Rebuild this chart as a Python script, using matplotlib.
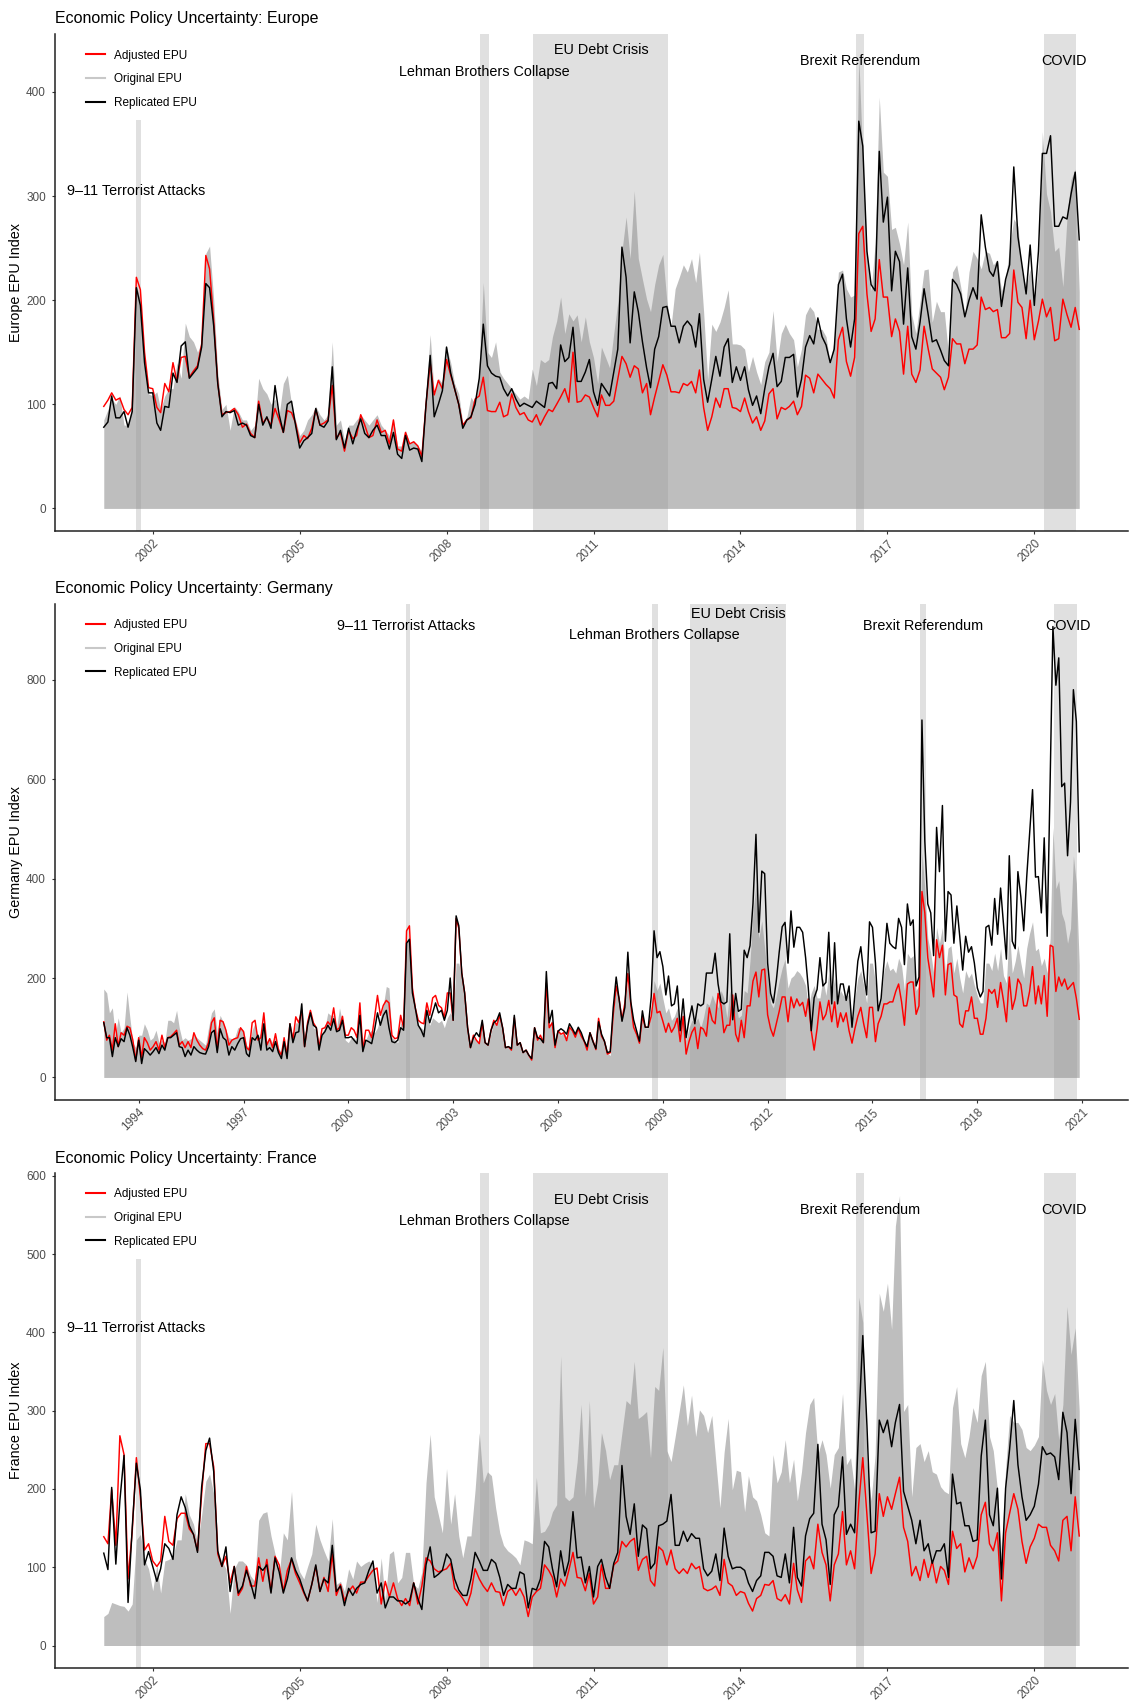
import pandas as pd
import numpy as np
import matplotlib
matplotlib.use('Agg')
import matplotlib.pyplot as plt
import matplotlib.dates as mdates
from matplotlib.lines import Line2D

plt.rcParams['font.family'] = ['Liberation Sans', 'DejaVu Sans']

# ---------------- Europe, monthly 2001-01 .. 2020-12 ----------------
eu_adjusted = [
    98, 104, 111, 104, 106, 95, 90, 97, 222, 210, 150, 116,
    115, 97, 92, 120, 112, 140, 122, 145, 146, 126, 132, 137,
    158, 243, 230, 180, 120, 90, 92, 93, 96, 90, 78, 81,
    72, 68, 103, 82, 87, 80, 96, 85, 73, 94, 92, 82,
    63, 70, 67, 77, 95, 80, 82, 85, 118, 67, 73, 55,
    75, 67, 70, 90, 80, 68, 70, 85, 73, 75, 62, 85,
    57, 55, 73, 62, 64, 60, 50, 100, 140, 109, 123, 115,
    143, 128, 115, 100, 80, 85, 87, 105, 108, 126, 94, 93,
    93, 102, 88, 90, 110, 97, 90, 92, 85, 83, 90, 80,
    88, 95, 93, 100, 107, 115, 102, 150, 102, 103, 109, 107,
    97, 88, 109, 99, 99, 103, 124, 146, 139, 126, 137, 134,
    111, 120, 90, 107, 122, 138, 128, 112, 112, 111, 120, 118,
    122, 111, 133, 97, 75, 88, 106, 97, 115, 115, 97, 96,
    93, 106, 93, 82, 88, 75, 84, 110, 115, 86, 97, 95,
    98, 103, 90, 98, 128, 125, 111, 129, 124, 119, 115, 106,
    162, 174, 141, 127, 145, 264, 271, 206, 170, 182, 239, 203,
    203, 165, 182, 170, 129, 175, 129, 121, 133, 175, 153, 134,
    130, 126, 114, 126, 163, 158, 158, 139, 153, 153, 157, 203,
    191, 193, 189, 191, 164, 164, 168, 229, 198, 193, 163, 200,
    162, 180, 201, 184, 193, 161, 163, 201, 186, 174, 193, 172,
]
eu_original = [
    85, 95, 105, 100, 108, 80, 80, 100, 215, 200, 140, 110,
    108, 112, 95, 108, 115, 115, 140, 125, 178, 165, 160, 150,
    160, 245, 252, 200, 130, 95, 100, 75, 98, 93, 85, 85,
    75, 80, 125, 115, 110, 100, 105, 90, 120, 128, 100, 85,
    70, 75, 85, 90, 98, 90, 85, 90, 160, 80, 85, 65,
    80, 80, 85, 90, 85, 80, 85, 90, 80, 75, 70, 85,
    60, 60, 75, 62, 65, 60, 55, 110, 167, 110, 125, 120,
    155, 140, 120, 110, 82, 88, 107, 100, 130, 217, 150, 145,
    160, 131, 125, 120, 115, 110, 105, 108, 105, 134, 118, 143,
    140, 143, 165, 180, 203, 168, 187, 180, 186, 160, 184, 160,
    145, 120, 155, 145, 135, 168, 198, 247, 280, 240, 305, 240,
    220, 201, 189, 215, 234, 244, 199, 175, 211, 222, 234, 227,
    240, 217, 246, 189, 124, 177, 170, 179, 193, 210, 158, 158,
    157, 153, 131, 146, 131, 119, 141, 150, 190, 141, 168, 177,
    168, 162, 136, 153, 186, 194, 189, 172, 172, 165, 139, 162,
    227, 229, 211, 203, 205, 434, 336, 247, 209, 254, 395, 323,
    319, 268, 270, 254, 234, 275, 186, 168, 199, 229, 230, 179,
    199, 189, 189, 148, 227, 234, 213, 186, 227, 247, 240, 230,
    247, 245, 234, 239, 209, 220, 251, 278, 271, 227, 213, 230,
    196, 234, 362, 302, 285, 247, 251, 213, 280, 316, 326, 208,
]
eu_replicated = [
    78, 83, 108, 87, 87, 93, 78, 93, 212, 195, 140, 111,
    111, 82, 75, 98, 97, 130, 121, 156, 160, 125, 130, 135,
    155, 216, 212, 175, 120, 88, 93, 92, 94, 80, 82, 80,
    70, 68, 100, 80, 88, 77, 118, 90, 73, 100, 103, 80,
    58, 65, 68, 72, 96, 80, 78, 84, 136, 66, 75, 58,
    77, 62, 75, 86, 72, 68, 75, 80, 70, 70, 57, 73,
    52, 48, 70, 56, 58, 57, 45, 100, 147, 88, 100, 113,
    155, 130, 115, 100, 77, 85, 88, 100, 125, 177, 137, 130,
    127, 126, 115, 108, 115, 105, 98, 101, 99, 97, 103, 100,
    97, 120, 121, 115, 157, 141, 145, 174, 122, 122, 131, 143,
    112, 99, 120, 114, 108, 131, 153, 251, 222, 159, 208, 189,
    160, 135, 116, 153, 165, 193, 194, 175, 175, 159, 175, 180,
    175, 155, 187, 124, 102, 124, 146, 127, 155, 163, 121, 136,
    123, 136, 114, 99, 108, 91, 115, 136, 149, 117, 122, 145,
    145, 148, 107, 124, 155, 166, 158, 183, 165, 157, 140, 153,
    215, 225, 182, 155, 182, 372, 348, 247, 215, 209, 343, 275,
    299, 209, 247, 237, 177, 231, 165, 153, 179, 211, 186, 160,
    162, 152, 142, 137, 220, 215, 206, 184, 200, 212, 201, 282,
    251, 228, 223, 237, 194, 220, 234, 328, 261, 234, 206, 253,
    195, 247, 341, 341, 358, 271, 271, 280, 278, 302, 323, 258,
]

# ---------------- Germany, monthly 1993-01 .. 2020-12 ----------------
de_adjusted = [
    112, 75, 85, 55, 108, 62, 90, 85, 103, 100, 75, 35,
    80, 40, 80, 70, 55, 62, 72, 55, 85, 60, 80, 82,
    88, 95, 65, 72, 60, 72, 60, 90, 75, 65, 58, 55,
    70, 110, 120, 55, 115, 112, 95, 65, 75, 78, 80, 100,
    92, 60, 55, 110, 115, 75, 80, 130, 65, 78, 60, 88,
    55, 45, 80, 45, 108, 75, 122, 110, 135, 62, 110, 135,
    110, 100, 60, 98, 100, 112, 105, 140, 95, 100, 123, 85,
    85, 100, 95, 80, 150, 55, 95, 95, 80, 120, 165, 125,
    145, 155, 150, 85, 78, 80, 125, 100, 295, 305, 180, 140,
    115, 110, 108, 150, 125, 160, 165, 145, 140, 120, 170, 170,
    115, 320, 300, 210, 170, 100, 60, 85, 75, 68, 110, 70,
    65, 95, 115, 105, 125, 100, 60, 62, 55, 120, 65, 70,
    50, 55, 45, 35, 100, 75, 85, 70, 190, 100, 110, 60,
    94, 87, 90, 74, 101, 94, 81, 98, 83, 73, 55, 90,
    74, 56, 119, 83, 73, 47, 50, 126, 184, 159, 116, 150,
    209, 148, 101, 87, 69, 123, 101, 101, 123, 169, 130, 133,
    113, 91, 109, 91, 101, 119, 72, 123, 47, 72, 91, 101,
    58, 101, 97, 83, 140, 115, 108, 169, 144, 90, 105, 105,
    166, 87, 72, 115, 80, 144, 144, 194, 212, 162, 216, 218,
    126, 98, 83, 108, 133, 162, 162, 112, 162, 140, 158, 144,
    151, 123, 158, 94, 55, 98, 152, 116, 127, 155, 112, 152,
    101, 130, 112, 130, 94, 69, 98, 123, 141, 108, 80, 141,
    141, 72, 108, 123, 148, 148, 152, 152, 173, 188, 152, 105,
    188, 192, 192, 127, 144, 374, 331, 241, 202, 162, 277, 241,
    266, 166, 227, 230, 166, 162, 108, 101, 134, 134, 162, 119,
    119, 87, 87, 119, 177, 169, 177, 141, 191, 155, 112, 202,
    137, 159, 198, 187, 144, 144, 173, 223, 148, 184, 148, 205,
    123, 266, 263, 173, 202, 184, 198, 177, 184, 191, 159, 117,
]
de_original = [
    178, 170, 130, 140, 85, 120, 90, 100, 172, 120, 70, 60,
    85, 85, 108, 95, 75, 80, 95, 70, 75, 70, 115, 115,
    110, 135, 100, 75, 80, 75, 78, 85, 80, 75, 70, 65,
    100, 130, 138, 90, 125, 112, 95, 80, 78, 80, 100, 100,
    95, 65, 60, 95, 110, 80, 90, 115, 70, 80, 70, 80,
    60, 50, 75, 55, 100, 85, 110, 110, 155, 75, 120, 135,
    100, 95, 65, 90, 100, 130, 125, 125, 100, 140, 110, 75,
    70, 80, 80, 70, 110, 60, 75, 90, 95, 90, 100, 120,
    145, 183, 180, 80, 75, 70, 110, 105, 270, 280, 170, 130,
    105, 100, 95, 125, 105, 120, 115, 110, 115, 100, 120, 130,
    120, 230, 230, 200, 160, 100, 60, 80, 75, 70, 110, 70,
    65, 90, 110, 110, 125, 100, 62, 62, 58, 120, 65, 70,
    50, 55, 45, 38, 100, 78, 80, 70, 180, 100, 120, 62,
    95, 85, 92, 80, 100, 95, 85, 100, 85, 75, 60, 92,
    75, 60, 115, 85, 75, 50, 44, 130, 180, 150, 115, 150,
    195, 150, 105, 90, 75, 125, 100, 100, 130, 195, 175, 190,
    159, 130, 140, 115, 123, 140, 110, 125, 75, 100, 115, 110,
    120, 100, 120, 150, 145, 166, 150, 140, 175, 160, 120, 175,
    140, 155, 120, 125, 175, 170, 235, 331, 388, 280, 315, 260,
    200, 150, 140, 165, 195, 220, 238, 180, 200, 205, 215, 210,
    200, 185, 140, 170, 185, 160, 160, 200, 165, 210, 165, 200,
    160, 175, 165, 160, 170, 110, 160, 200, 215, 185, 150, 230,
    230, 190, 140, 160, 215, 235, 215, 220, 210, 240, 225, 175,
    250, 240, 245, 175, 185, 453, 380, 280, 250, 210, 302, 270,
    302, 210, 260, 265, 210, 240, 200, 170, 215, 200, 210, 185,
    165, 150, 150, 230, 230, 215, 250, 215, 260, 205, 190, 300,
    210, 234, 266, 230, 200, 260, 290, 313, 255, 260, 225, 240,
    210, 280, 503, 380, 396, 330, 313, 270, 300, 446, 390, 227,
]
de_replicated = [
    110, 80, 80, 42, 80, 62, 78, 72, 100, 85, 60, 32,
    75, 28, 58, 52, 45, 52, 60, 48, 65, 55, 80, 80,
    85, 90, 62, 60, 42, 55, 45, 62, 55, 50, 48, 47,
    62, 90, 95, 50, 98, 80, 75, 45, 62, 55, 68, 78,
    80, 48, 42, 80, 75, 85, 55, 108, 55, 60, 52, 72,
    50, 38, 72, 38, 108, 70, 90, 92, 148, 62, 105, 130,
    105, 100, 55, 85, 92, 105, 95, 118, 92, 95, 115, 80,
    80, 82, 75, 68, 125, 52, 75, 72, 68, 95, 130, 105,
    125, 135, 100, 72, 70, 75, 100, 95, 270, 278, 170, 140,
    105, 95, 82, 135, 110, 130, 150, 130, 135, 115, 135, 200,
    115, 325, 305, 210, 170, 100, 60, 80, 90, 82, 115, 70,
    65, 95, 110, 115, 130, 100, 60, 62, 58, 125, 65, 70,
    50, 55, 45, 38, 100, 80, 78, 70, 213, 110, 135, 65,
    93, 98, 94, 87, 108, 98, 87, 101, 90, 74, 62, 90,
    72, 58, 112, 87, 73, 50, 52, 140, 202, 159, 113, 141,
    252, 152, 116, 94, 73, 134, 101, 101, 162, 295, 241, 253,
    223, 166, 204, 144, 148, 184, 94, 158, 80, 116, 144, 108,
    148, 144, 148, 210, 210, 210, 250, 188, 152, 148, 152, 289,
    116, 169, 133, 137, 256, 241, 265, 350, 489, 292, 415, 410,
    230, 169, 150, 195, 252, 303, 312, 230, 335, 262, 302, 302,
    292, 241, 180, 94, 160, 177, 241, 184, 191, 292, 148, 271,
    148, 188, 188, 155, 184, 101, 166, 234, 263, 209, 166, 313,
    302, 230, 134, 159, 230, 310, 270, 263, 259, 320, 302, 227,
    349, 306, 317, 184, 202, 719, 475, 349, 331, 245, 503, 414,
    547, 274, 374, 367, 270, 345, 284, 216, 284, 252, 263, 230,
    180, 162, 173, 302, 306, 266, 360, 288, 381, 309, 238, 446,
    274, 259, 414, 363, 295, 403, 490, 579, 403, 404, 331, 482,
    284, 595, 907, 789, 844, 585, 592, 446, 554, 780, 716, 454,
]

# ---------------- France, monthly 2001-01 .. 2020-12 ----------------
fr_adjusted = [
    139, 130, 199, 128, 268, 244, 85, 145, 240, 190, 122, 130,
    108, 101, 108, 165, 133, 128, 162, 169, 169, 149, 142, 121,
    194, 258, 258, 228, 117, 101, 114, 80, 101, 64, 73, 101,
    76, 76, 112, 82, 110, 69, 114, 103, 69, 96, 110, 92,
    80, 67, 57, 78, 101, 69, 87, 69, 117, 64, 78, 57,
    69, 76, 67, 81, 81, 89, 96, 99, 53, 82, 62, 80,
    60, 51, 60, 51, 80, 53, 76, 112, 108, 98, 94, 96,
    98, 105, 73, 67, 60, 51, 67, 98, 85, 76, 69, 80,
    69, 68, 51, 69, 73, 64, 73, 62, 37, 62, 69, 73,
    103, 96, 87, 62, 85, 76, 96, 119, 87, 86, 70, 92,
    53, 62, 103, 73, 73, 103, 108, 133, 126, 133, 137, 96,
    110, 114, 83, 76, 126, 121, 103, 122, 98, 92, 98, 92,
    105, 98, 101, 73, 70, 72, 76, 64, 110, 80, 76, 64,
    69, 67, 54, 44, 60, 64, 78, 77, 83, 60, 57, 65,
    53, 105, 71, 55, 108, 114, 98, 155, 119, 103, 57, 103,
    117, 171, 103, 121, 98, 181, 240, 167, 92, 117, 194, 165,
    190, 174, 194, 215, 151, 133, 89, 101, 83, 110, 87, 108,
    80, 101, 96, 78, 146, 124, 130, 94, 112, 98, 114, 167,
    183, 130, 121, 144, 57, 144, 169, 194, 174, 133, 105, 126,
    137, 155, 151, 151, 128, 121, 108, 160, 165, 121, 190, 140,
]
fr_original = [
    37, 41, 55, 53, 51, 50, 44, 53, 135, 142, 110, 98,
    70, 103, 67, 108, 110, 114, 135, 135, 194, 167, 155, 130,
    167, 210, 219, 194, 117, 108, 98, 41, 98, 108, 108, 103,
    89, 82, 160, 169, 171, 140, 117, 89, 144, 135, 197, 112,
    94, 85, 101, 117, 155, 135, 121, 108, 162, 78, 82, 69,
    98, 85, 108, 101, 105, 108, 103, 55, 112, 57, 117, 121,
    80, 87, 119, 119, 78, 73, 94, 208, 270, 190, 167, 144,
    226, 155, 194, 140, 112, 140, 140, 199, 272, 208, 222, 217,
    176, 144, 128, 121, 117, 112, 103, 135, 133, 130, 215, 144,
    146, 155, 171, 180, 370, 190, 185, 190, 235, 308, 190, 313,
    176, 208, 272, 249, 212, 231, 231, 272, 313, 308, 363, 290,
    294, 299, 240, 331, 326, 381, 249, 235, 267, 299, 333, 281,
    320, 267, 301, 294, 272, 294, 235, 176, 247, 290, 199, 224,
    222, 171, 217, 190, 185, 167, 144, 140, 244, 208, 222, 263,
    208, 238, 185, 222, 272, 308, 317, 244, 263, 244, 201, 244,
    253, 322, 231, 240, 199, 445, 413, 235, 185, 244, 450, 427,
    463, 404, 536, 575, 299, 308, 190, 253, 258, 235, 249, 222,
    219, 203, 197, 194, 304, 331, 258, 240, 267, 304, 285, 345,
    363, 267, 249, 199, 117, 226, 294, 285, 285, 276, 253, 249,
    256, 267, 365, 326, 308, 322, 263, 308, 433, 372, 406, 300,
]
fr_replicated = [
    118, 97, 202, 104, 185, 243, 55, 150, 233, 199, 103, 120,
    101, 82, 98, 130, 124, 110, 167, 190, 176, 153, 142, 119,
    203, 249, 265, 222, 121, 101, 126, 69, 101, 67, 76, 96,
    80, 60, 101, 96, 103, 67, 112, 94, 67, 85, 112, 96,
    85, 69, 57, 78, 103, 69, 85, 80, 128, 69, 76, 51,
    73, 64, 73, 78, 80, 96, 108, 67, 80, 48, 62, 62,
    57, 57, 53, 57, 80, 60, 46, 103, 126, 87, 91, 96,
    117, 110, 85, 71, 64, 64, 85, 119, 108, 96, 96, 110,
    105, 87, 64, 78, 73, 73, 94, 91, 48, 73, 71, 85,
    133, 126, 98, 75, 121, 89, 108, 171, 112, 113, 80, 101,
    62, 101, 110, 87, 73, 105, 119, 230, 165, 142, 181, 114,
    154, 149, 98, 105, 153, 155, 159, 193, 128, 128, 146, 133,
    143, 137, 137, 98, 89, 95, 117, 83, 150, 114, 98, 100,
    100, 96, 80, 69, 83, 89, 119, 119, 114, 89, 87, 117,
    80, 151, 87, 76, 140, 162, 169, 257, 155, 135, 78, 167,
    178, 241, 142, 155, 144, 283, 396, 281, 144, 146, 288, 272,
    288, 254, 285, 308, 197, 178, 160, 130, 160, 121, 130, 105,
    121, 121, 130, 87, 219, 181, 183, 153, 153, 133, 135, 242,
    288, 167, 153, 201, 85, 201, 251, 313, 231, 190, 160, 167,
    178, 206, 254, 244, 246, 241, 212, 298, 272, 194, 289, 225,
]

# events shaded on every panel
event_names = ['9\u201311 Terrorist Attacks', 'Lehman Brothers Collapse',
               'EU Debt Crisis', 'Brexit Referendum', 'COVID']
event_start = ['2001-08-28', '2008-09-10', '2009-10-10', '2016-05-12', '2020-03-10']
event_end = ['2001-10-04', '2008-11-16', '2012-07-10', '2016-07-12', '2020-11-10']
event_text_x = ['2001-09-01', '2008-10-05', '2011-03-01', '2016-06-08', '2020-08-08']

eu_text_y = [305, 419, 440, 430, 430]
de_text_y = [909, 889, 932, 909, 909]
fr_text_y = [406, 542, 569, 556, 556]

panels = [
    dict(name='Europe', start='2001-01-01', adj=eu_adjusted, orig=eu_original,
         rep=eu_replicated, text_y=eu_text_y, top911=373,
         years=range(2002, 2021, 3), yticks=range(0, 401, 100),
         px=(34, 531)),
    dict(name='Germany', start='1993-01-01', adj=de_adjusted, orig=de_original,
         rep=de_replicated, text_y=de_text_y, top911=None,
         years=range(1994, 2022, 3), yticks=range(0, 801, 200),
         px=(604, 1100)),
    dict(name='France', start='2001-01-01', adj=fr_adjusted, orig=fr_original,
         rep=fr_replicated, text_y=fr_text_y, top911=494,
         years=range(2002, 2021, 3), yticks=range(0, 601, 100),
         px=(1173, 1668)),
]

W, H = 1130, 1702
fig = plt.figure(figsize=(W / 100, H / 100), dpi=100)

for p in panels:
    top, bot = p['px']
    ax = fig.add_axes([55 / W, 1 - bot / H, (1128 - 55) / W, (bot - top) / H])

    dates = pd.date_range(p['start'], periods=len(p['adj']), freq='MS')
    x = mdates.date2num(dates)

    M = max(max(p['adj']), max(p['orig']), max(p['rep']))
    ylo, yhi = -0.05 * M, 1.05 * M
    span = x[-1] - x[0]
    ax.set_xlim(x[0] - 0.05 * span, x[-1] + 0.05 * span)
    ax.set_ylim(ylo, yhi)

    ax.fill_between(x, 0, p['orig'], color='#bebebe', lw=0, zorder=1)

    for i in range(len(event_names)):
        s = mdates.date2num(pd.Timestamp(event_start[i]))
        e = mdates.date2num(pd.Timestamp(event_end[i]))
        ymax = 1.0
        if i == 0 and p['top911'] is not None:
            ymax = (p['top911'] - ylo) / (yhi - ylo)
        ax.axvspan(s, e, ymin=0, ymax=ymax, color='#999999', alpha=0.3, lw=0, zorder=2)
        ax.text(mdates.date2num(pd.Timestamp(event_text_x[i])), p['text_y'][i],
                event_names[i], ha='center', va='center', fontsize=10.4,
                color='black', zorder=5)

    ax.plot(x, p['adj'], color='#ff0000', lw=1.05, zorder=3)
    ax.plot(x, p['rep'], color='black', lw=1.05, zorder=4)

    for s in ['top', 'right']:
        ax.spines[s].set_visible(False)
    for s in ['left', 'bottom']:
        ax.spines[s].set_linewidth(1.1)
        ax.spines[s].set_color('#222222')

    ticks = [mdates.date2num(pd.Timestamp(f'{y}-01-01')) for y in p['years']]
    ax.set_xticks(ticks)
    ax.set_xticklabels([str(y) for y in p['years']], rotation=45, ha='right',
                       va='top', rotation_mode='anchor')
    ax.set_yticks(list(p['yticks']))
    ax.set_yticklabels([str(v) for v in p['yticks']])
    ax.tick_params(axis='both', length=2.2, width=0.8, color='#333333',
                   labelsize=8.5, labelcolor='#4d4d4d')
    ax.tick_params(axis='y', pad=4.3)
    ax.tick_params(axis='x', pad=2.5)

    ax.text(-39 / 1073, 0.5, f"{p['name']} EPU Index", transform=ax.transAxes,
            rotation=90, ha='center', va='center', fontsize=10.4)
    ax.annotate(f"Economic Policy Uncertainty: {p['name']}", xy=(0, 1),
                xycoords='axes fraction', xytext=(0, 10.8),
                textcoords='offset points', ha='left', va='center', fontsize=11.5)

    handles = [Line2D([], [], color='#ff0000', lw=1.5),
               Line2D([], [], color='#c8c8c8', lw=1.5),
               Line2D([], [], color='black', lw=1.5)]
    ax.legend(handles, ['Adjusted EPU', 'Original EPU', 'Replicated EPU'],
              loc='upper left', bbox_to_anchor=(31.4 / 1073, 1 - 15.5 / 497),
              frameon=False, fontsize=8.5, handlelength=1.55,
              handletextpad=0.8, labelspacing=0.98, borderaxespad=0,
              borderpad=0)

fig.savefig('out.png', dpi=100)
